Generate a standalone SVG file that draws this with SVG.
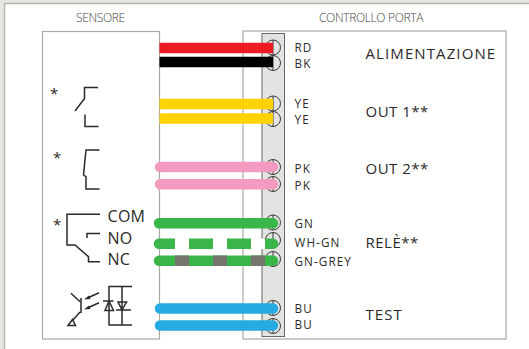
<svg xmlns="http://www.w3.org/2000/svg" width="529" height="349" viewBox="0 0 529 349">
<style>
text{font-family:"Open Sans","Noto Sans","Liberation Sans",sans-serif;fill:#2b2a29}
.h{font-size:12px;font-weight:300;fill:#444;letter-spacing:-.35px}
.c{font-size:11.700px;letter-spacing:1.100px}
.l{font-size:15px;letter-spacing:1.100px}
.t{font-size:15px;letter-spacing:.5px}
.s{font-size:16px;letter-spacing:.3px}
.a{font-size:15px}
.box{fill:#fff;stroke:#a9a9a3;stroke-width:1.200}
.sym{fill:none;stroke:#2b2a29;stroke-width:1.500}
.fill{fill:#2b2a29;stroke:none}
.scr{fill:none;stroke:#3a3a38;stroke-width:1}
.w{fill:none;stroke-width:10.500}
.r{stroke-linecap:round}
</style>
<rect width="529" height="349" fill="#fff"/>
<path d="M0 0H529V3H4.500V349H0Z" fill="#e6e6e3"/>
<path d="M4.500 349V3.500H529" fill="none" stroke="#b5b5ae" stroke-width="1.500"/>
<text class="h" x="76" y="22">SENSORE</text>
<text class="h" x="319" y="22">CONTROLLO PORTA</text>
<g id="sensore"><rect class="box" x="42.500" y="31.500" width="117" height="307.500"/>
<g class="sym">
<path d="M98 87.500H84.500V98.500L75 111M85 114.500V126.500H98.500"/>
<path d="M99.500 150H86L83.500 175L86 176.700V189H99.500"/>
<path d="M100 214.300H67V245H75L88.500 256.700V261.700H100M100 233.500H87V238"/>
<path d="M71 293.300L80 301.700M81 298V313M80 312L73 320"/>
<path d="M68 325.500H75.500L72.500 319.500Z"/>
<path d="M99 292.700L88 297.700M99 302.700L88 307.700"/>
<path d="M109 286V325M122 286V325M108.500 286.500H132M108.500 325H132M103 301H113.500M116 310H131"/>
<path d="M109 301L105 310.500H113.500ZM122 310L118 302H126.500Z"/>
</g>
<path class="fill" d="M84 299.500L89 295.500L90.500 299ZM84 309.500L89 305.500L90.500 309Z"/>
<text class="a" x="50" y="99">*</text>
<text class="a" x="53" y="163">*</text>
<text class="a" x="53" y="230">*</text>
<text class="s" x="107.500" y="222">COM</text>
<text class="s" x="107.500" y="244">NO</text>
<text class="s" x="107.500" y="265">NC</text></g>
<g id="controllo"><rect class="box" x="243" y="31" width="263" height="308"/>
<rect x="262" y="33.500" width="22.500" height="303" fill="#e3e3e1" stroke="#666" stroke-width="1"/>
<g class="scr">
<circle cx="273" cy="47.500" r="7.500"/><path d="M273 40V55"/>
<circle cx="273" cy="63" r="7.500"/><path d="M273 55.500V70.500"/>
<circle cx="273" cy="103.500" r="7.500"/><path d="M273 96V111"/>
<circle cx="273" cy="119" r="7.500"/><path d="M273 111.500V126.500"/>
<circle cx="273" cy="167" r="7.500"/><path d="M273 159.500V174.500"/>
<circle cx="273" cy="184" r="7.500"/><path d="M273 176.500V191.500"/>
<circle cx="273" cy="222.500" r="7.500"/><path d="M273 215V230"/>
<circle cx="273" cy="240" r="7.500"/><path d="M273 232.500V247.500"/>
<circle cx="273" cy="259" r="7.500"/><path d="M273 251.500V266.500"/>
<circle cx="273" cy="308" r="7.500"/><path d="M273 300.500V315.500"/>
<circle cx="273" cy="326" r="7.500"/><path d="M273 318.500V333.500"/>
</g>
<text class="c" x="294.500" y="52">RD</text><text class="c" x="294.500" y="68">BK</text>
<text class="c" x="294.500" y="108">YE</text><text class="c" x="294.500" y="124">YE</text>
<text class="c" x="294.500" y="173">PK</text><text class="c" x="294.500" y="190">PK</text>
<text class="c" x="294.500" y="228">GN</text><text class="c" x="294.500" y="247">WH-GN</text><text class="c" x="294.500" y="266">GN-GREY</text>
<text class="c" x="294.500" y="313">BU</text><text class="c" x="294.500" y="329">BU</text>
<text class="l" x="365.500" y="59">ALIMENTAZIONE</text>
<text class="t" x="365.500" y="117">OUT 1**</text>
<text class="t" x="365.500" y="173.500">OUT 2**</text>
<text class="t" x="365.500" y="248">RELÈ**</text>
<text class="l" x="365.500" y="319.500">TEST</text></g>
<g id="connectors">
<path class="w" stroke="#ed1c24" d="M159.500 48H273"/>
<path class="w" stroke="#000" d="M159.500 62H273"/>
<path class="w" stroke="#ffd200" d="M159.500 104H273M159.500 118.500H273"/>
<path class="w r" stroke="#f49ac1" d="M160 167H273M160 184.300H273"/>
<path class="w r" stroke="#39b54a" d="M159 223.300H273M159 243.700H170M159 260.700H273M265 243.700H273"/>
<g stroke-width="10.500" fill="none">
<path stroke="#39b54a" d="M170 243.700H175M189 243.700H213M227 243.700H251"/>
<path stroke="#fff" d="M175 243.700H189M213 243.700H227M251 243.700H265"/>
<path stroke="#75756d" d="M175 260.700H189M213 260.700H227M251 260.700H265"/>
</g>
<path class="w r" stroke="#27aae1" d="M160 308.500H273M160 325.500H273"/>
</g>
</svg>
